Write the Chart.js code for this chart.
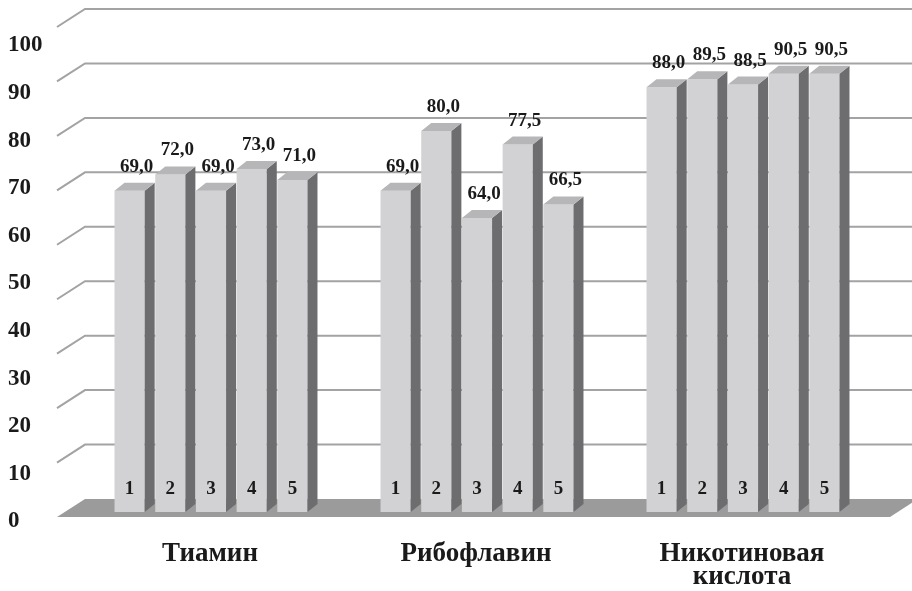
<!DOCTYPE html>
<html>
<head>
<meta charset="utf-8">
<script src="https://cdn.jsdelivr.net/npm/chart.js@4/dist/chart.umd.min.js"></script>
<style>
  html, body { margin: 0; padding: 0; background: #ffffff; }
  #wrap { width: 912px; height: 591px; position: relative; }
</style>
</head>
<body>
<div id="wrap"><canvas id="chart" width="912" height="591"></canvas></div>
<script>
// Categories (vitamins) and the five numbered series
const categories = ['Тиамин', 'Рибофлавин', ['Никотиновая', 'кислота']];
const seriesNames = ['1', '2', '3', '4', '5'];
const series1 = [69.0, 69.0, 88.0];
const series2 = [72.0, 80.0, 89.5];
const series3 = [69.0, 64.0, 88.5];
const series4 = [73.0, 77.5, 90.5];
const series5 = [71.0, 66.5, 90.5];
const seriesValues = [series1, series2, series3, series4, series5];

// Value axis labels and back-wall grid levels
const axisTickValues = [0, 10, 20, 30, 40, 50, 60, 70, 80, 90, 100];
const wallGridValues = [20, 30, 40, 50, 60, 70, 80, 90, 100];
const floorValue = 10;

// Colours
const FRONT_COLOR = '#d2d2d4';
const SIDE_COLOR = '#6d6d70';
const TOP_COLOR = '#b6b6b8';
const FLOOR_COLOR = '#9b9b9b';
const GRID_COLOR = '#a3a3a3';
const TEXT_COLOR = '#1a1a1a';
const SERIF = '"Liberation Serif", "Times New Roman", serif';

// Plot box (back wall plane) and the oblique projection offsets
const AREA = { left: 98, top: 9, right: 896, bottom: 540 };
const WALL = { dx: 28, dy: -18 };   // floor front edge -> back wall
const FRONT = { dx: -20, dy: 13 };  // back wall -> bar front faces
const DEPTH = { dx: 10, dy: -8 };   // bar front face -> bar back face
const WALL_INSET = 13;              // wall starts this far left of the plot box
const FLOOR_OVERHANG = 22;          // floor runs this far right of the plot box

// Wall scale: 100 at the top of the box, floor level at y = 499
const wallPxPerUnit = (499 - AREA.top) / (100 - floorValue);
const wallMin = 100 - (AREA.bottom - AREA.top) / wallPxPerUnit;

// Label scale: 100 at y = 45.5, 0 at y = 521.5
const labelPxPerUnit = (521.5 - 45.5) / 100;
const labelMax = 100 + (45.5 - AREA.top) / labelPxPerUnit;
const labelMin = -(AREA.bottom - 521.5) / labelPxPerUnit;

const fmt = v => v.toFixed(1).replace('.', ',');

function poly(ctx, pts, color) {
  ctx.fillStyle = color;
  ctx.beginPath();
  ctx.moveTo(pts[0][0], pts[0][1]);
  for (let k = 1; k < pts.length; k++) ctx.lineTo(pts[k][0], pts[k][1]);
  ctx.closePath();
  ctx.fill();
}

const perspective = {
  id: 'perspective',
  beforeDatasetsDraw(chart) {
    const { ctx, chartArea, scales: { y } } = chart;
    const wallX = chartArea.left - WALL_INSET;
    ctx.save();
    // back-wall grid lines with their side-wall diagonals
    ctx.strokeStyle = GRID_COLOR;
    ctx.lineWidth = 2;
    wallGridValues.forEach(v => {
      const py = y.getPixelForValue(v);
      ctx.beginPath();
      ctx.moveTo(wallX - WALL.dx, py - WALL.dy);
      ctx.lineTo(wallX, py);
      ctx.lineTo(chart.width, py);
      ctx.stroke();
    });
    // floor
    const fy = y.getPixelForValue(floorValue);
    const fr = chartArea.right + FLOOR_OVERHANG;
    poly(ctx, [
      [wallX - WALL.dx, fy - WALL.dy],
      [wallX, fy],
      [fr, fy],
      [fr - WALL.dx, fy - WALL.dy]
    ], FLOOR_COLOR);
    ctx.restore();
  },
  beforeDatasetDraw(chart) {
    chart.ctx.save();
    chart.ctx.translate(FRONT.dx, FRONT.dy);
  },
  afterDatasetDraw(chart) {
    chart.ctx.restore();
  },
  afterDatasetsDraw(chart) {
    const { ctx } = chart;
    ctx.save();
    chart.data.datasets.forEach((ds, di) => {
      const meta = chart.getDatasetMeta(di);
      meta.data.forEach((bar, i) => {
        const p = bar.getProps(['x', 'y', 'base', 'width'], true);
        const l = p.x - p.width / 2 + FRONT.dx;
        const r = p.x + p.width / 2 + FRONT.dx;
        const t = p.y + FRONT.dy;
        const b = p.base + FRONT.dy;
        poly(ctx, [[r, b], [r + DEPTH.dx, b + DEPTH.dy], [r + DEPTH.dx, t + DEPTH.dy], [r, t]], SIDE_COLOR);
        poly(ctx, [[l, t], [l + DEPTH.dx, t + DEPTH.dy], [r + DEPTH.dx, t + DEPTH.dy], [r, t]], TOP_COLOR);

        ctx.fillStyle = TEXT_COLOR;
        ctx.textAlign = 'center';
        ctx.font = 'bold 19px ' + SERIF;
        ctx.textBaseline = 'alphabetic';
        ctx.fillText(fmt(ds.data[i]), (l + r) / 2 + 7, t - 19);
        ctx.textBaseline = 'middle';
        ctx.fillText(ds.label, (l + r) / 2, b - 23);
      });
    });
    ctx.restore();
  }
};

new Chart(document.getElementById('chart'), {
  type: 'bar',
  data: {
    labels: categories,
    datasets: seriesValues.map((vals, k) => ({
      label: seriesNames[k],
      data: vals,
      base: floorValue,
      backgroundColor: FRONT_COLOR,
      borderWidth: 0,
      clip: false,
      categoryPercentage: 0.765,
      barPercentage: 0.741
    }))
  },
  options: {
    responsive: false,
    animation: false,
    events: [],
    layout: { padding: { left: 8, top: AREA.top, right: 912 - AREA.right, bottom: 0 } },
    plugins: { legend: { display: false }, tooltip: { enabled: false } },
    scales: {
      x: {
        type: 'category',
        position: 'bottom',
        offset: true,
        grid: { display: false, drawTicks: false },
        border: { display: false },
        ticks: {
          color: TEXT_COLOR,
          font: { family: SERIF, weight: 'bold', size: 27, lineHeight: 0.84 },
          padding: 3,
          labelOffset: -21,
          maxRotation: 0,
          autoSkip: false
        },
        afterFit(s) { s.height = 591 - AREA.bottom; s.paddingLeft = 0; s.paddingRight = 0; }
      },
      y: {
        type: 'linear',
        display: false,
        min: wallMin,
        max: 100
      },
      yText: {
        type: 'linear',
        position: 'left',
        min: labelMin,
        max: labelMax,
        grid: { display: false },
        border: { display: false },
        ticks: {
          stepSize: 10,
          includeBounds: false,
          crossAlign: 'far',
          padding: 0,
          color: TEXT_COLOR,
          font: { family: SERIF, weight: 'bold', size: 23 },
          callback: v => axisTickValues.includes(v) ? String(v) : null
        },
        afterFit(s) { s.width = AREA.left - 8; s.paddingTop = 0; s.paddingBottom = 0; }
      }
    }
  },
  plugins: [perspective]
});
</script>
</body>
</html>
